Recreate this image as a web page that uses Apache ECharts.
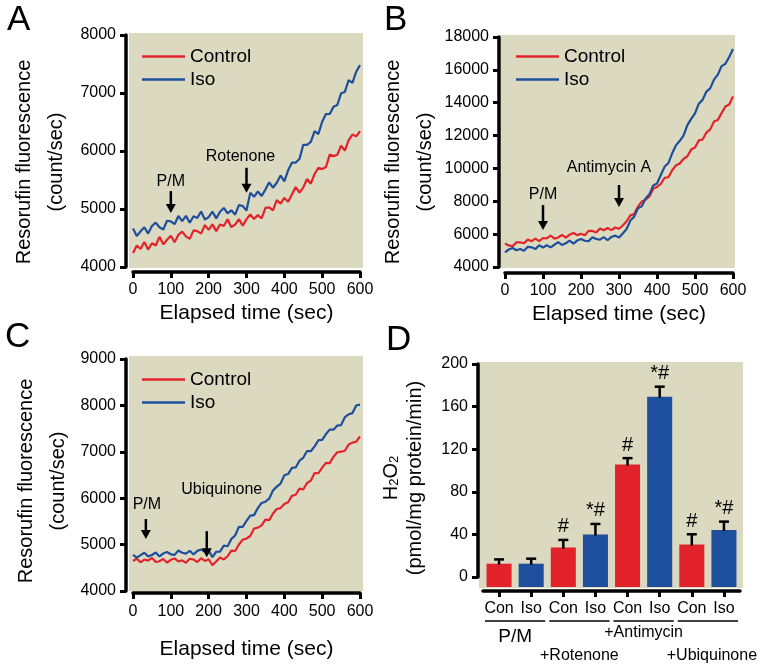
<!DOCTYPE html>
<html><head><meta charset="utf-8">
<script src="https://cdn.jsdelivr.net/npm/echarts@6/dist/echarts.min.js"></script>
<style>html,body{margin:0;padding:0;background:#fff}#c{width:762px;height:668px}</style>
</head><body><div id="c"></div>
<script>
// ---------------- DATA ----------------
const time = [0,10,20,30,40,50,60,70,80,90,100,110,120,130,140,150,160,170,180,190,200,210,220,230,240,250,260,270,280,290,300,310,320,330,340,350,360,370,380,390,400,410,420,430,440,450,460,470,480,490,500,510,520,530,540,550,560,570,580,590,600];

const aControl = [4240,4370,4310,4430,4300,4410,4370,4520,4390,4470,4540,4427,4554,4611,4528,4485,4632,4619,4576,4723,4640,4735,4619,4734,4708,4823,4687,4732,4826,4711,4825,4905,4826,4897,4838,5020,5028,4976,5154,5092,5190,5126,5252,5378,5284,5370,5518,5436,5604,5712,5690,5724,5938,5912,5936,6090,6008,6186,6284,6252,6340];
const aIso = [4665,4535,4615,4686,4576,4706,4766,4686,4647,4797,4787,4738,4880,4791,4882,4764,4875,4846,4957,4819,4860,4955,4839,4954,5018,4923,4977,4902,5066,5051,4975,5280,5211,5303,5224,5335,5461,5367,5453,5579,5475,5667,5799,5801,5863,6105,6107,6159,6341,6293,6505,6637,6639,6761,6793,6995,7018,7221,7174,7367,7480];

const bControl = [5425,5315,5265,5500,5495,5445,5680,5570,5730,5575,5765,5736,5917,5723,5799,5950,5786,5967,6073,5939,6030,5935,6200,6195,6100,6350,6240,6370,6245,6405,6330,6525,6785,7145,7220,7680,7984,8093,8292,8761,8870,9053,9431,9464,9887,10190,10298,10586,10739,11147,11270,11704,11763,12182,12376,12855,12954,13368,13767,13896,14385];
const bIso = [4894,5065,5160,5016,5096,4982,5228,5203,5089,5319,5190,5320,5195,5355,5515,5345,5445,5605,5420,5610,5710,5596,5571,5817,5702,5663,5818,5629,5829,5910,5795,6045,6310,6830,7065,7570,7689,8168,8422,8961,9080,9596,10097,10328,10919,11405,11681,12017,12638,13019,13355,13936,14172,14678,14869,15405,15711,16227,16368,16779,17265];

const cControl = [4648,4696,4618,4678,4654,4714,4624,4642,4690,4612,4672,4702,4636,4660,4606,4696,4678,4624,4708,4648,4684,4558,4636,4724,4680,4749,4872,4862,5002,5106,5132,5186,5348,5366,5414,5540,5528,5672,5768,5786,5876,5912,6050,6074,6206,6188,6328,6378,6542,6538,6660,6762,6756,6894,6990,7002,7023,7158,7198,7219,7330];
const cIso = [4779,4718,4772,4825,4747,4776,4829,4745,4810,4840,4791,4778,4874,4825,4807,4866,4787,4865,4894,4846,4869,4730,4846,4848,4978,4965,5122,5196,5384,5384,5510,5626,5635,5787,5898,5924,5989,6168,6250,6315,6494,6520,6654,6663,6809,6871,7017,7013,7117,7250,7258,7383,7478,7476,7565,7576,7746,7808,7834,7998,8018];

const timeTicks = {min:0, max:600, interval:100};
const aTicks = {min:4000, max:8000, interval:1000};
const bTicks = {min:4000, max:18000, interval:2000};
const cTicks = {min:4000, max:9000, interval:1000};
const dTicks = {min:0, max:200, interval:40};

// annotations: label, time (sec), value the arrow points at
const aNotes = [{label:'P/M', x:100, tip:4930}, {label:'Rotenone', x:300, tip:5280}];
const bNotes = [{label:'P/M', x:100, tip:6250}, {label:'Antimycin A', x:300, tip:7650}];
const cNotes = [{label:'P/M', x:34, tip:5120}, {label:'Ubiquinone', x:195, tip:4730}];

const dCategories = ['Con','Iso','Con','Iso','Con','Iso','Con','Iso'];
const dValues = [12.5,12.5,27.6,39.8,105.6,169.3,30.4,44.2];
const dErrors = [4,4.7,7.2,10,6,9.4,9.7,7.8];
const dMarks = ['','','#','*#','#','*#','#','*#'];
const dGroups = [{label:'P/M', first:0, last:1},{label:'+Rotenone', first:2, last:3},{label:'+Antimycin', first:4, last:5},{label:'+Ubiquinone', first:6, last:7}];

// ---------------- STYLE / LAYOUT ----------------
const FONT = '"Liberation Sans", Arial, Helvetica, sans-serif';
const RED = '#e2232b', BLUE = '#1d4f9c', BG = '#dcd9c1', BLACK = '#000';
const grids = [
  {left:133, top:35, width:227, height:232},
  {left:505, top:37, width:228, height:230},
  {left:133, top:359, width:227, height:232},
  {left:483, top:364, width:257, height:213}
];
const bgRects = [[129,33,234,235],[501,35,234,233],[129,356,234,235],[479,362,264,226]];
const noteLayout = [ // [arrow length, text gap above tip, text dx]
  [[22,31,0],[25,36,-6]],
  [[25,35,0],[22,39,-10]],
  [[20,34,1],[26,68,15]]
];
const dGroupY = [637,656,633,656];
const dGroupFont = [19,16,16,16];

const chart = echarts.init(document.getElementById('c'), null, {renderer:'canvas'});

function timeAxis(gi, offset, margin, nameGap){
  return {type:'value', gridIndex:gi, min:timeTicks.min, max:timeTicks.max, interval:timeTicks.interval, offset,
    axisLine:{show:true, onZero:false, lineStyle:{color:BLACK, width:3.5}},
    axisTick:{show:true, length:6, lineStyle:{color:BLACK, width:3}},
    axisLabel:{color:BLACK, fontSize:16, fontFamily:FONT, margin, formatter:v=>String(v)},
    splitLine:{show:false},
    name:'Elapsed time (sec)', nameLocation:'middle', nameGap,
    nameTextStyle:{fontSize:21, color:BLACK, fontFamily:FONT}};
}
function valAxis(gi, t, offset){
  return {type:'value', gridIndex:gi, min:t.min, max:t.max, interval:t.interval, offset,
    axisLine:{show:true, onZero:false, lineStyle:{color:BLACK, width:3.5}},
    axisTick:{show:true, length:6, lineStyle:{color:BLACK, width:3}},
    axisLabel:{color:BLACK, fontSize:16, fontFamily:FONT, margin:10, formatter:v=>String(v)},
    splitLine:{show:false}};
}
function line(name, gi, values, color){
  return {type:'line', name, xAxisIndex:gi, yAxisIndex:gi, data:time.map((t,i)=>[t, values[i]]),
    showSymbol:false, symbol:'none', lineStyle:{color, width:2.2}, itemStyle:{color}, z:3, clip:false};
}
function legend(left, top){
  return {left, top, orient:'vertical', icon:'rect', itemWidth:43, itemHeight:2.5, itemGap:4,
    selectedMode:false, data:['Control','Iso'],
    textStyle:{fontSize:19, lineHeight:19, fontFamily:FONT, color:BLACK}};
}

const option = {
  animation:false,
  backgroundColor:'#fff',
  grid: grids,
  xAxis: [
    timeAxis(0, 5, 10, 31),
    timeAxis(1, 6, 10, 31),
    timeAxis(2, 2, 11, 46),
    {type:'category', gridIndex:3, data:dCategories, offset:14,
      axisLine:{show:true, onZero:false, lineStyle:{color:BLACK, width:3.5}},
      axisTick:{show:true, alignWithLabel:true, length:6, lineStyle:{color:BLACK, width:3}},
      axisLabel:{color:BLACK, fontSize:16, fontFamily:FONT, margin:10, interval:0},
      splitLine:{show:false}}
  ],
  yAxis: [valAxis(0, aTicks, 7), valAxis(1, bTicks, 6), valAxis(2, cTicks, 7), valAxis(3, dTicks, 5)],
  legend: [legend(137, 42), legend(511, 42), legend(137, 365)],
  series: [
    line('Control', 0, aControl, RED), line('Iso', 0, aIso, BLUE),
    line('Control', 1, bControl, RED), line('Iso', 1, bIso, BLUE),
    line('Control', 2, cControl, RED), line('Iso', 2, cIso, BLUE),
    {type:'custom', name:'bars', xAxisIndex:3, yAxisIndex:3, z:3,
      data:dValues.map((v,i)=>[i,v]),
      renderItem:(params, api)=>{
        const i = api.value(0);
        const top = api.coord([i, api.value(1)]);
        const base = api.coord([i, 0]);
        const w = api.size([1,0])[0]*0.78;
        return {type:'rect', shape:{x:top[0]-w/2, y:top[1], width:w, height:base[1]-top[1]+10},
          style:{fill: i%2 ? BLUE : RED}};
      }},
    {type:'custom', name:'err', xAxisIndex:3, yAxisIndex:3, z:4,
      data:dValues.map((v,i)=>[i, v, v+dErrors[i]]),
      renderItem:(params, api)=>{
        const i = api.value(0);
        const lo = api.coord([i, api.value(1)]);
        const hi = api.coord([i, api.value(2)]);
        const ch = [
          {type:'line', shape:{x1:lo[0], y1:lo[1]+1, x2:hi[0], y2:hi[1]}, style:{stroke:BLACK, lineWidth:2.5}},
          {type:'line', shape:{x1:hi[0]-5, y1:hi[1], x2:hi[0]+5, y2:hi[1]}, style:{stroke:BLACK, lineWidth:2.5}}
        ];
        const m = dMarks[params.dataIndex];
        if (m) ch.push({type:'text', x:hi[0], y:hi[1]-13,
          style:{text:m, fontSize:20, fontFamily:FONT, fill:BLACK, align:'center', verticalAlign:'middle'}});
        return {type:'group', children:ch};
      }}
  ]
};
chart.setOption(option);

// ---------- graphics: backgrounds, panel letters, titles, arrows, group labels ----------
const g = [];
bgRects.forEach(r => g.push({type:'rect', z:-5, shape:{x:r[0], y:r[1], width:r[2], height:r[3]}, style:{fill:BG}}));
[['A',7,3],['B',384,3],['C',5,320],['D',386,323]].forEach(p =>
  g.push({type:'text', x:p[1], y:p[2], style:{text:p[0], fontSize:35, fontFamily:FONT, fill:BLACK}}));
[[40,162],[409,162],[42,481]].forEach(p =>
  g.push({type:'text', x:p[0], y:p[1], rotation:Math.PI/2,
    style:{text:'Resorufin fluorescence\n(count/sec)', fontSize:20, lineHeight:32, fontFamily:FONT, fill:BLACK, align:'center', verticalAlign:'middle'}}));
g.push({type:'text', x:401, y:478, rotation:Math.PI/2,
  style:{text:'{n|H}{s|2}{n|O}{s|2}\n{n|(pmol/mg protein/min)}', fontFamily:FONT, fill:BLACK, align:'center', verticalAlign:'middle',
    rich:{n:{fontSize:20, lineHeight:24, fontFamily:FONT, verticalAlign:'bottom'}, s:{fontSize:13, lineHeight:24, fontFamily:FONT, verticalAlign:'bottom'}}}});
[aNotes, bNotes, cNotes].forEach((notes, gi) => {
  notes.forEach((n, k) => {
    const [len, gap, dx] = noteLayout[gi][k];
    const p = chart.convertToPixel({xAxisIndex:gi, yAxisIndex:gi}, [n.x, n.tip]);
    const x = p[0], y = p[1];
    g.push({type:'line', z:10, shape:{x1:x, y1:y-len, x2:x, y2:y-8}, style:{stroke:BLACK, lineWidth:2.5}});
    g.push({type:'polygon', z:10, shape:{points:[[x-5,y-9],[x+5,y-9],[x,y]]}, style:{fill:BLACK}});
    g.push({type:'text', z:10, x:x+dx, y:y-gap, style:{text:n.label, fontSize:16, fontFamily:FONT, fill:BLACK, align:'center', verticalAlign:'middle'}});
  });
});
dGroups.forEach((gr, k) => {
  const a = chart.convertToPixel({xAxisIndex:3, yAxisIndex:3}, [gr.first, 0]);
  const b = chart.convertToPixel({xAxisIndex:3, yAxisIndex:3}, [gr.last, 0]);
  const half = (b[0]-a[0])/2;
  g.push({type:'line', shape:{x1:a[0]-half+2, y1:621, x2:b[0]+half-2, y2:621}, style:{stroke:BLACK, lineWidth:1.5}});
  g.push({type:'text', x:(a[0]+b[0])/2 + (k===3?4:0), y:dGroupY[k], style:{text:gr.label, fontSize:dGroupFont[k], fontFamily:FONT, fill:BLACK, align:'center', verticalAlign:'middle'}});
});
chart.setOption({graphic:{elements:g}});
</script>
</body></html>
